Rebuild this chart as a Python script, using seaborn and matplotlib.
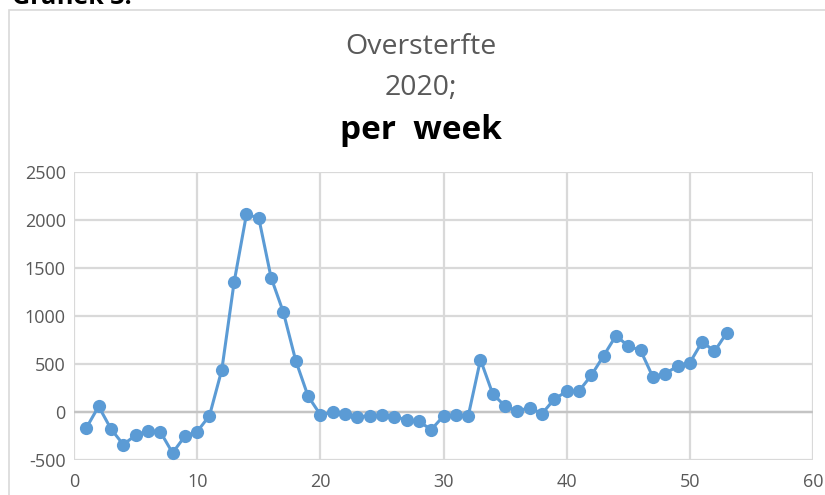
import matplotlib
matplotlib.use("Agg")
import matplotlib.pyplot as plt
import seaborn as sns
import pandas as pd
from matplotlib.patches import Rectangle

weeks = list(range(1, 54))
oversterfte = [-166, 59, -176, -339, -242, -197, -204, -426, -253, -204,
               -38, 439, 1353, 2059, 2021, 1401, 1038, 536, 166, -28,
               -3, -24, -48, -42, -35, -49, -80, -97, -184, -42,
               -28, -45, 545, 187, 62, 10, 45, -17, 135, 215,
               219, 382, 586, 795, 687, 642, 364, 399, 479, 514,
               732, 632, 826]
x_ticks = [0, 10, 20, 30, 40, 50, 60]
y_ticks = [-500, 0, 500, 1000, 1500, 2000, 2500]
title_lines = ["Oversterfte", "2020;", "per  week"]
header = "Grafiek 3:"

df = pd.DataFrame({"week": weeks, "oversterfte": oversterfte})

sns.set_theme(style="white")
plt.rcParams['font.family'] = ['Open Sans', 'DejaVu Sans']

fig = plt.figure(figsize=(8.25, 4.95), dpi=100)
ax = fig.add_axes([0.0897, 0.0707, 0.8958, 0.5818])

blue = "#5B9BD5"
sns.lineplot(data=df, x="week", y="oversterfte", ax=ax, color=blue,
             linewidth=2.2, marker="o", markersize=9.5, markeredgewidth=0,
             zorder=3)

ax.set_xlim(0, 60)
ax.set_ylim(-500, 2500)
ax.set_xticks(x_ticks)
ax.set_yticks(y_ticks)
ax.set_xticklabels([str(t) for t in x_ticks])
ax.set_yticklabels([str(t) for t in y_ticks])
ax.grid(True, color="#D9D9D9", linewidth=1.6)
ax.axhline(0, color="#C4C4C4", linewidth=1.7, zorder=1)
for s in ax.spines.values():
    s.set_visible(False)
ax.tick_params(axis="both", length=0, labelsize=13, labelcolor="#595959")
ax.tick_params(axis="x", pad=9)
ax.tick_params(axis="y", pad=6)
ax.set_xlabel("")
ax.set_ylabel("")

# chart frame
fig.patches.append(Rectangle((9/825, -0.01), 1.02, 1 - 10/495 + 0.01,
                             transform=fig.transFigure, fill=False,
                             edgecolor="#D9D9D9", linewidth=1.2))

fig.text(421/825, 1 - 47/495, title_lines[0], ha="center", va="center",
         fontsize=20.5, color="#595959")
fig.text(421/825, 1 - 88/495, title_lines[1], ha="center", va="center",
         fontsize=20.5, color="#595959")
fig.text(421/825, 1 - 131/495, title_lines[2], ha="center", va="center",
         fontsize=24, fontweight="bold", color="black")
fig.text(12/825, 1 + 3/495, header, ha="left", va="center",
         fontsize=18, fontweight="bold", color="black")

fig.savefig("out.png", dpi=100)
